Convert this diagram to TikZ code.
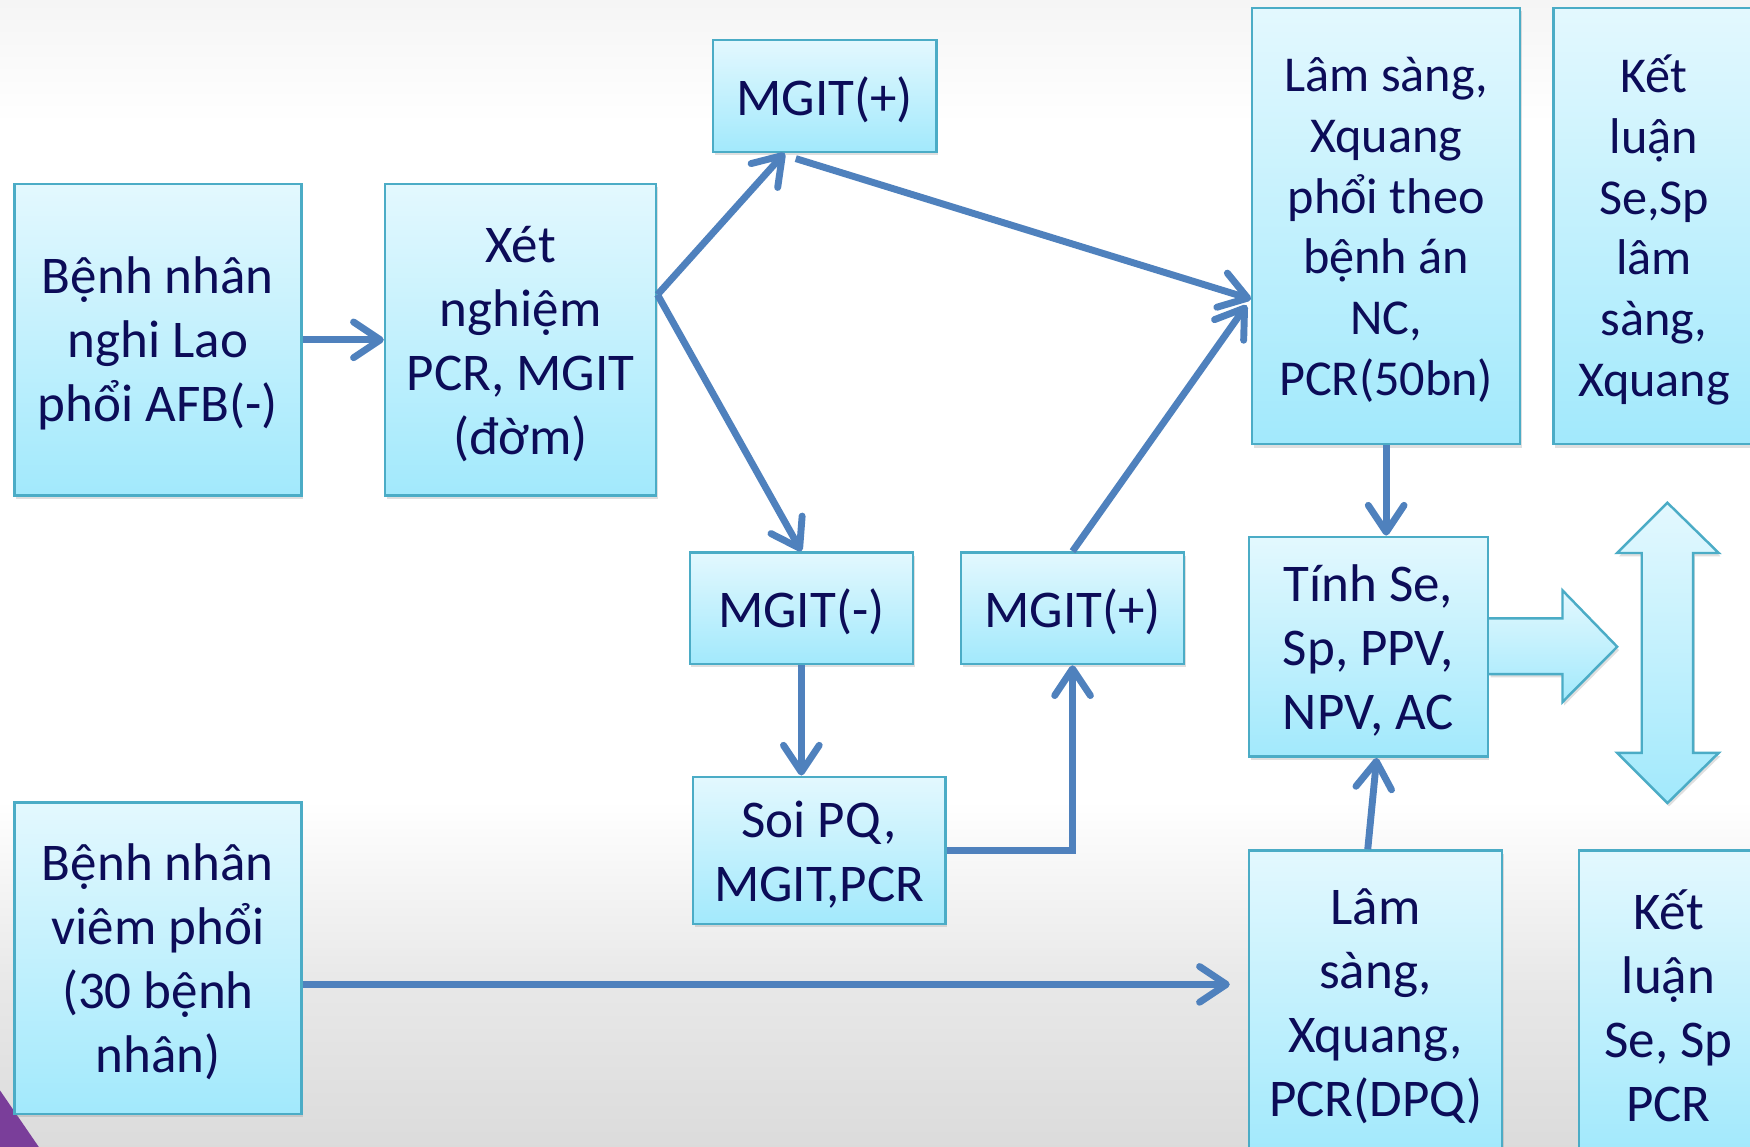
\documentclass[tikz,border=0pt]{standalone}
\usepackage{fontspec}
\setmainfont{Carlito}
\usetikzlibrary{arrows.meta,shadows,calc}
\definecolor{txtc}{RGB}{12,12,88}
\definecolor{bordc}{RGB}{75,172,198}
\definecolor{ftop}{RGB}{227,248,254}
\definecolor{fbot}{RGB}{162,233,252}
\definecolor{arrc}{RGB}{79,129,189}
\definecolor{purpc}{RGB}{122,62,154}
\newcommand{\bxt}[1]{\vbox{\kern7pt\let\\\cr\halign{\hfil##\hfil\cr#1\crcr}}}
\begin{document}
\begin{tikzpicture}[x=1pt,y=-1pt,
  box/.style={draw=bordc,line width=2.2pt,top color=ftop,bottom color=fbot,text=txtc,inner sep=0pt,
    font=\fontsize{47.5}{57.3}\selectfont,
    drop shadow={shadow xshift=1.5pt,shadow yshift=-3pt,opacity=0.25}},
  tallbox/.style={box,font=\fontsize{45}{54.4}\selectfont},
  con/.style={draw=arrc,line width=6.2pt,-{Straight Barb[length=24pt,width=32pt,round]}},
  blkfill/.style={top color=ftop,bottom color=fbot,drop shadow={shadow xshift=1.5pt,shadow yshift=-3pt,opacity=0.25}},
  blkline/.style={draw=bordc,line width=2.2pt,line join=miter}]
\useasboundingbox (0,0) rectangle (1568,1027);
\clip (0,0) rectangle (1568,1027);
% background
\shade[top color=black!4,bottom color=white] (-1,-1) rectangle (1569,111);
\fill[white] (-1,110) rectangle (1569,718);
\shade[top color=white,bottom color=black!9] (-1,717) rectangle (1569,881);
\shade[top color=black!9,bottom color=black!14] (-1,880) rectangle (1569,1028);
\fill[purpc] (0,977) -- (35,1028) -- (0,1028) -- cycle;

% block arrows
\path[blkfill] (1334,554) -- (1400,554) -- (1400,529) -- (1449,579.5) -- (1400,629) -- (1400,604) -- (1334,604) -- cycle;
\draw[blkline] (1334,554) -- (1400,554) -- (1400,529) -- (1449,579.5) -- (1400,629) -- (1400,604) -- (1334,604);
\path[blkfill,blkline] (1494,450.5) -- (1540,495.5) -- (1517,495.5) -- (1517,674.5) -- (1540,674.5) -- (1494,719.5)
  -- (1449,674.5) -- (1471,674.5) -- (1471,495.5) -- (1449,495.5) -- cycle;

% boxes
\node[box,minimum width=257pt,minimum height=279pt] (b1) at (141.5,304.5) {\bxt{Bệnh nhân\\nghi Lao\\phổi AFB(-)}};
\node[box,minimum width=243pt,minimum height=279pt] (b2) at (466.5,304.5) {\bxt{Xét\\nghiệm\\PCR, MGIT\\(đờm)}};
\node[box,minimum width=200pt,minimum height=100pt] (b3) at (739,86) {\bxt{MGIT(+)}};
\node[tallbox,minimum width=240pt,minimum height=391pt] (b4) at (1242,202.5) {\bxt{Lâm sàng,\\Xquang\\phổi theo\\bệnh án\\NC,\\PCR(50bn)}};
\node[tallbox,minimum width=180pt,minimum height=391pt] (b5) at (1482,202.5) {\bxt{Kết\\luận\\Se,Sp\\lâm\\sàng,\\Xquang}};
\node[box,minimum width=200pt,minimum height=100pt] (b6) at (718,545) {\bxt{MGIT(-)}};
\node[box,minimum width=200pt,minimum height=100pt] (b7) at (961,545) {\bxt{MGIT(+)}};
\node[box,minimum width=226pt,minimum height=132pt] (b8) at (734,762) {\bxt{Soi PQ,\\MGIT,PCR}};
\node[box,minimum width=214pt,minimum height=197pt] (b9) at (1226,579.5) {\bxt{Tính Se,\\Sp, PPV,\\NPV, AC}};
\node[box,minimum width=257pt,minimum height=279pt] (b10) at (141.5,858.5) {\bxt{Bệnh nhân\\viêm phổi\\(30 bệnh\\nhân)}};
\node[box,minimum width=227pt,minimum height=272pt] (b11) at (1232.5,898) {\bxt{Lâm\\sàng,\\Xquang,\\PCR(DPQ)}};
\node[box,minimum width=160pt,minimum height=272pt] (b12) at (1495,898) {\bxt{Kết\\luận\\Se, Sp\\PCR}};

% connector points
\coordinate (s2) at ([yshift=40.5pt]b2.east);
\coordinate (s10) at ([yshift=-23.5pt]b10.east);
\coordinate (e10) at ($(b11.west|-s10)+(-16,0)$);

% connectors
\draw[con] (b1.east) -- (b2.west);
\draw[con] (s2) -- ([xshift=-36pt]b3.south);
\draw[con] (s2) -- (b6.north);
\draw[con] ([xshift=-26pt,yshift=-5pt]b3.south) -- ([yshift=-65.5pt]b4.west);
\draw[con] (b7.north) -- ([xshift=-4pt,yshift=-71pt]b4.west);
\draw[con] (b6.south) -- (b6.south|-b8.north);
\draw[con] (b8.east) -| (b7.south);
\draw[con] (b4.south) -- (b4.south|-b9.north);
\draw[con] ([xshift=-7pt]b11.north) -- ([xshift=7.5pt]b9.south);
\draw[con] (s10) -- (e10);
\end{tikzpicture}
\end{document}
